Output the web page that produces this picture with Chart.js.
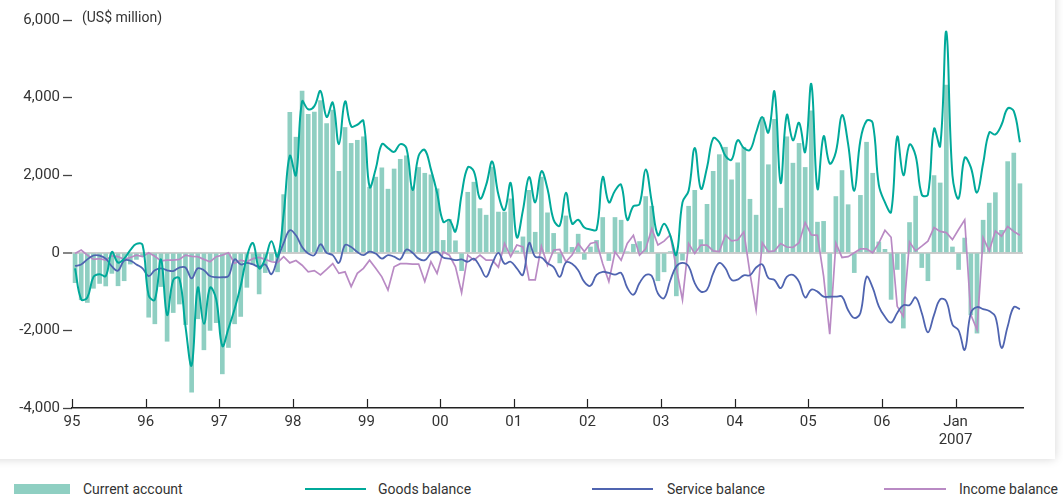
<!DOCTYPE html>
<html>
<head>
<meta charset="utf-8">
<script src="https://cdn.jsdelivr.net/npm/chart.js@4.4.1/dist/chart.umd.min.js"></script>
<style>
  html, body { margin: 0; padding: 0; background: #fff; }
  body { width: 1063px; height: 501px; position: relative; overflow: hidden;
         font-family: Roboto, "Liberation Sans", sans-serif; color: #333; }
  #card { position: absolute; left: -12px; top: -12px; width: 1067px; height: 471px;
          background: #fff; box-shadow: 0 0 9px rgba(0,0,0,0.17); }
  #wrap { position: absolute; left: 0; top: 0; width: 1063px; height: 460px; }
  #unit { position: absolute; left: 82px; top: 9px; font-size: 14px; }
  .sw { position: absolute; }
  .lt { position: absolute; top: 480px; font-size: 14px; line-height: 18px; color: #333; }
</style>
</head>
<body>
<div id="card"></div>
<div id="wrap"><canvas id="myChart" width="1063" height="460"></canvas></div>
<div id="unit">(US$ million)</div>

<!-- legenda -->
<div class="sw" style="left:14px;top:484px;width:56px;height:10px;background:#8fcfc2"></div>
<div class="lt" style="left:83px">Current account</div>
<div class="sw" style="left:305px;top:488px;width:61px;height:2px;background:#00a99a"></div>
<div class="lt" style="left:378px">Goods balance</div>
<div class="sw" style="left:592px;top:488px;width:61px;height:2px;background:#4f64b0"></div>
<div class="lt" style="left:667px">Service balance</div>
<div class="sw" style="left:884px;top:488px;width:62px;height:2px;background:#b98ac4"></div>
<div class="lt" style="left:959px">Income balance</div>

<script>
// Dados: mensais, jan 1995 a nov 2007
const yearLabels = ['95', '96', '97', '98', '99', '00', '01', '02', '03', '04', '05', '06', ['Jan', '2007']];
const yTicks = [-4000, -2000, 0, 2000, 4000, 6000];

const currentAccount = [
  -770, -1210, -1280, -915, -790, -855, -530, -850, -720, -290, -170, -100,
  -1660, -1830, -870, -2280, -1540, -1320, -1850, -3590, -1700, -2500, -2000, -1800,
  -3120, -2440, -1830, -1640, -890, -300, -1060, -510, -200, -490, 1500, 3620,
  2980, 4170, 3570, 3630, 3920, 3330, 3680, 2100, 3230, 2820, 2900, 2990,
  1690, 1950, 2190, 1640, 2160, 2410, 2500, 1700, 2200, 2050, 2010, 1650,
  320, 860, 310, -460, 1560, 1820, 1140, 970, 2210, 1050, 1050, 1390,
  50, 410, 1610, 530, 1950, 1030, 500, -260, 950, 140, 480, -170,
  150, 320, 910, -200, 910, 840, 25, 220, 290, 1450, 1200, -720,
  -490, 30, -1110, -190, 1200, 1610, 340, 1250, 2100, 2530, 2720, 1880,
  2320, 2720, 1380, 970, 3490, 2270, 3440, 1150, 2990, 2310, 2820, 2200,
  3660, 790, 810, -1170, 1450, 2120, 1240, -510, 1480, 2850, 2050, 280,
  90, -1200, -430, -1940, 780, 1460, -380, -720, 1990, 1800, 4320, 150,
  -430, 380, -1600, -2070, 840, 1280, 1550, 580, 2350, 2570, 1780
];

const goodsBalance = [
  -400, -1200, -1150, -620, -550, -600, 20, -250, -150, 70, 230, 200,
  -1100, -1210, -170, -1600, -700, -660, -1900, -2900, -900, -1830, -900, -1200,
  -2400, -1950, -1450, -850, -100, 250, -400, -150, 300, -100, 1000, 2500,
  2000, 3900, 3700, 3780, 4170, 3500, 3870, 2800, 3900, 3260, 3300, 3400,
  1700, 2160, 2800, 2700, 2600, 2800, 2700, 1620, 2500, 2650, 2150, 1550,
  800, 850, 550, 1500, 2200, 2100, 1400, 1750, 2350, 1500, 1100, 1800,
  400, 1100, 1950, 1300, 2100, 1650, 850, 700, 1550, 750, 850, 650,
  600, 600, 1950, 1300, 1600, 1750, 850, 1200, 1250, 2150, 1300, 450,
  750, 450, -50, 1300, 1600, 2700, 1650, 2200, 2950, 2850, 2500, 2400,
  2900, 2700, 2650, 3100, 3500, 3100, 4150, 1800, 3550, 2900, 3350, 2600,
  4350, 1650, 3000, 2300, 2600, 3550, 2800, 1600, 2900, 3400, 3350, 1750,
  1300, 1050, 2990, 2000, 2790, 2500, 1500, 1500, 3200, 2750, 5700, 2000,
  1400, 2450, 2200, 1550, 2300, 3100, 3050, 3300, 3720, 3650, 2850
];

const serviceBalance = [
  -340, -300, -170, -70, -70, -150, -350, -460, -200, -200, -300, -400,
  -600, -450, -400, -450, -470, -380, -380, -660, -400, -450, -600, -630,
  -630, -600, -170, -300, -260, -300, -360, -300, -550, -150, 250, 580,
  450, 150, -20, -60, 220, 0, -60, -260, 200, 150, 20, -60,
  30, -20, -150, -60, -100, -170, 85, 0, -150, -190, -20, 25,
  -120, -150, -190, -170, -230, -150, -360, -620, -280, 0, -280, -230,
  -400, -570, 250, -100, -120, -270, -370, -620, -250, -280, -450, -750,
  -850, -570, -490, -520, -560, -520, -900, -1080, -780, -570, -600, -1050,
  -1170, -720, -350, -260, -350, -780, -1000, -950, -530, -260, -400, -700,
  -690, -580, -580, -380, -300, -650, -700, -910, -620, -570, -750, -1150,
  -950, -1000, -1130, -1130, -1130, -1130, -1480, -1680, -1550, -620, -900, -1380,
  -1650, -1800, -1550, -1350, -1350, -1150, -1550, -2050, -1600, -1200, -1250, -1850,
  -2000, -2500, -1550, -1400, -1450, -1500, -1650, -2450, -1900, -1400, -1450
];

const incomeBalance = [
  -15, 70, -60, -170, -150, -190, -80, -100, -170, -120, -60, -100,
  0, -90, -210, -190, -190, -170, -60, -90, -100, -170, -230, -100,
  -60, 0, -270, -190, -230, -150, -120, -170, -230, -250, -100, -260,
  -200, -320, -490, -460, -570, -430, -280, -530, -490, -870, -530, -400,
  -190, -400, -620, -960, -360, -280, -280, -290, -290, -740, -230, -530,
  25, -60, -360, -1030, -60, -190, -60, -190, -190, -370, 240, -100,
  200, 150, -700, -700, 170, -320, 70, 85, -230, -60, 240, 30,
  240, 280, -280, -740, 25, -190, 240, 450, -60, 100, 620, 200,
  300, 460, -400, -1210, 240, -20, 200, 200, 50, 30, 460, 310,
  330, 540, -530, -1470, 260, 30, 50, 240, 150, 140, 260, 780,
  460, 450, -600, -2100, 250, -120, -100, 0, 100, 100, 0, 250,
  580, 400, -1380, -1640, 280, 50, 170, 300, 650, 550, 520, 340,
  600, 850, -1600, -1980, 390, 50, 560, 430, 680, 550, 450
];

// cada mês no meio do seu intervalo
const toPoints = arr => arr.map((v, i) => ({ x: i + 0.5, y: v }));

// marcas dos anos, para cima a partir do eixo
const yearTicks = {
  id: 'yearTicks',
  afterDatasetsDraw(chart) {
    const { ctx, chartArea, scales: { x } } = chart;
    ctx.save();
    ctx.strokeStyle = '#222';
    ctx.lineWidth = 1.2;
    x.ticks.forEach(t => {
      const px = Math.round(x.getPixelForValue(t.value)) + 0.5;
      ctx.beginPath();
      ctx.moveTo(px, chartArea.bottom);
      ctx.lineTo(px, chartArea.bottom - 9);
      ctx.stroke();
    });
    ctx.restore();
  }
};

const ctx = document.getElementById('myChart').getContext('2d');
const myChart = new Chart(ctx, {
  type: 'line',
  data: {
    datasets: [
      { type: 'line', label: 'Goods balance', data: toPoints(goodsBalance),
        borderColor: '#00a99a', borderWidth: 2, pointRadius: 0, tension: 0.4, order: 1 },
      { type: 'line', label: 'Service balance', data: toPoints(serviceBalance),
        borderColor: '#4f64b0', borderWidth: 1.8, pointRadius: 0, tension: 0.4, order: 2 },
      { type: 'line', label: 'Income balance', data: toPoints(incomeBalance),
        borderColor: '#b98ac4', borderWidth: 1.7, pointRadius: 0, tension: 0, order: 3 },
      { type: 'bar', label: 'Current account', data: toPoints(currentAccount),
        backgroundColor: '#8fcfc2', barThickness: 4, order: 4 }
    ]
  },
  options: {
    responsive: false,
    animation: false,
    devicePixelRatio: 1,
    layout: { padding: { top: 20, right: 40, left: 0, bottom: 0 } },
    plugins: { legend: { display: false }, tooltip: { enabled: false } },
    scales: {
      x: {
        type: 'linear',
        min: 0,
        max: 155,
        offset: false,
        afterBuildTicks: s => { s.ticks = yearLabels.map((l, j) => ({ value: j * 12 })); },
        afterFit: s => { s.height = 52; },
        ticks: {
          autoSkip: false, maxRotation: 0, padding: 5, color: '#333',
          font: { family: 'Roboto', size: 15 }, lineHeight: 1.2,
          callback: v => yearLabels[Math.round(v / 12)]
        },
        grid: { display: true, drawOnChartArea: false, drawTicks: false, offset: false },
        border: { display: true, color: '#222', width: 1.5 }
      },
      y: {
        min: -4000,
        max: 6000,
        afterBuildTicks: s => { s.ticks = yTicks.map(v => ({ value: v })); },
        afterFit: s => { s.width = 72; },
        ticks: {
          padding: 3, color: '#333',
          font: { family: 'Roboto', size: 15 },
          callback: v => v.toLocaleString('en-US')
        },
        grid: {
          drawOnChartArea: true,
          color: c => (c.tick && c.tick.value === 0) ? '#cccccc' : 'rgba(0,0,0,0)',
          lineWidth: c => (c.tick && c.tick.value === 0) ? 2 : 1,
          tickColor: '#444',
          tickLength: 9,
          tickWidth: 1.3
        },
        border: { display: false }
      }
    }
  },
  plugins: [yearTicks]
});
</script>
</body>
</html>
